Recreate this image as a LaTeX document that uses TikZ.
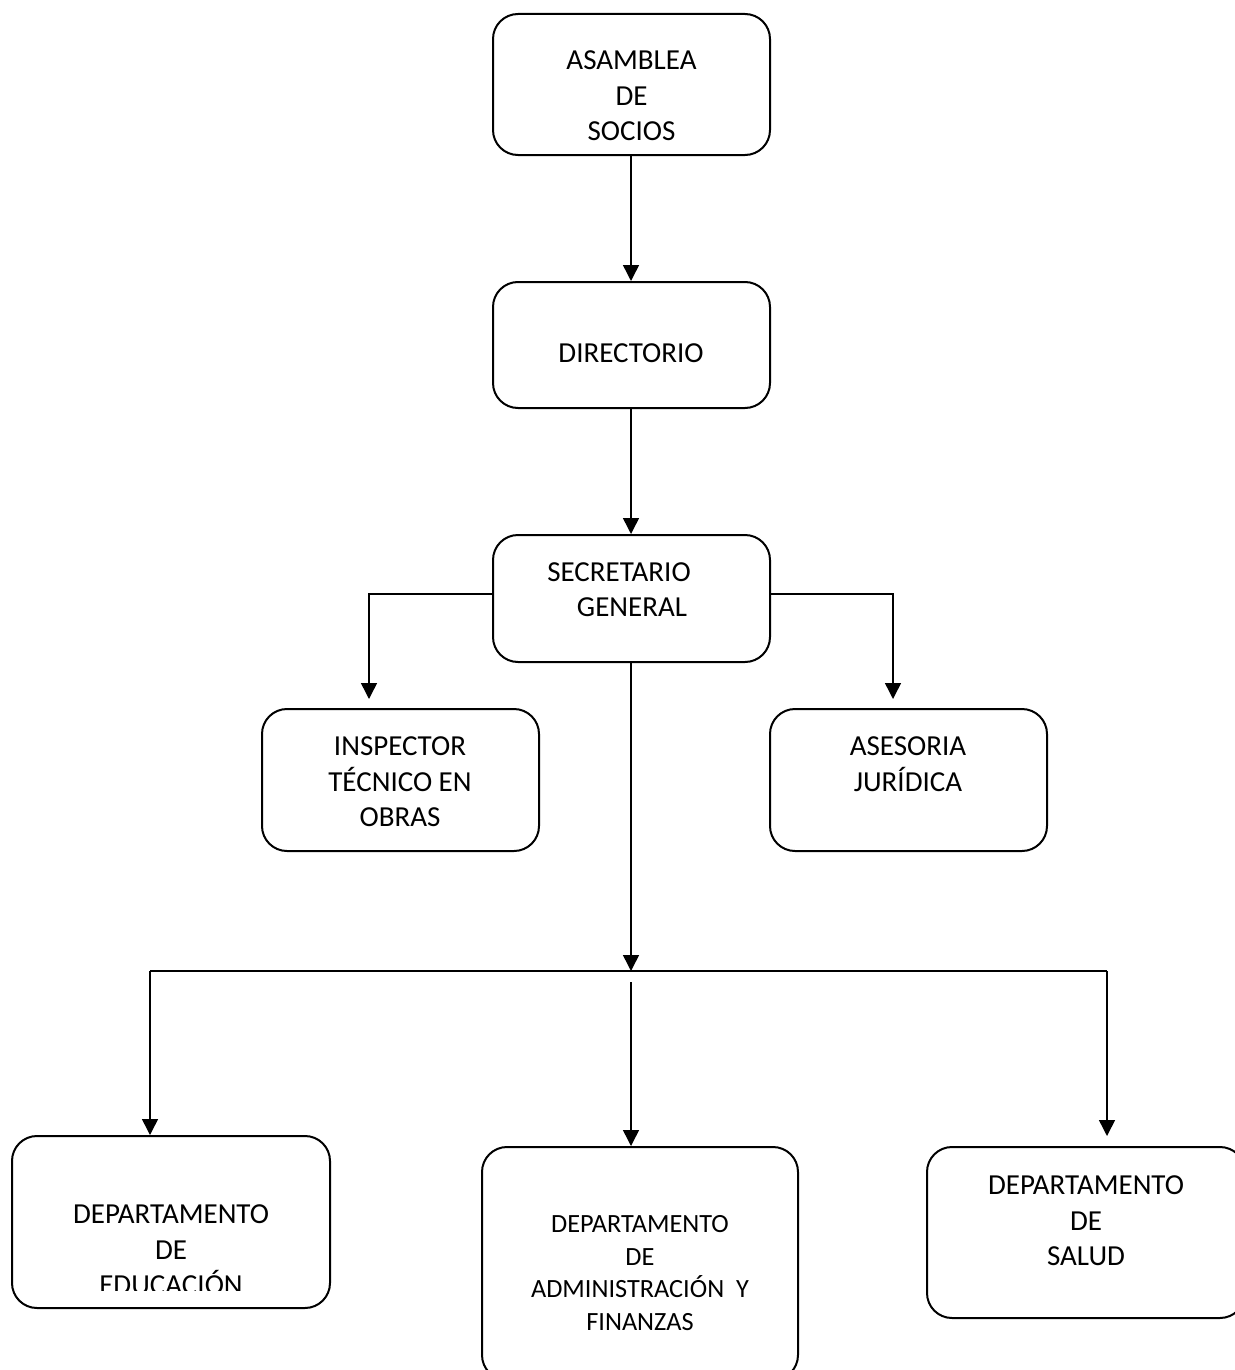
\documentclass[tikz,border=0pt]{standalone}
\usepackage{fontspec}
\setmainfont{Carlito}
\usetikzlibrary{arrows.meta}
\begin{document}
\begin{tikzpicture}[x=1pt,y=-1pt,
 box/.style={draw, line width=2pt, rounded corners=25pt, inner sep=0pt},
 lbl/.style={inner sep=0pt, align=center, font=\fontsize{29}{35.5}\selectfont},
 lblsmall/.style={inner sep=0pt, align=center, font=\fontsize{26.3}{32.5}\selectfont},
 conn/.style={line width=1.5pt},
 arr/.style={conn, -{Triangle[length=16pt,width=16pt]}}]
\useasboundingbox (0,0) rectangle (1234,1370);

% boxes
\node[box, minimum width=277pt, minimum height=141pt] (asam) at (631.5,84.5) {};
\node[box, minimum width=277pt, minimum height=126pt] (dir) at (631.5,345) {};
\node[box, minimum width=277pt, minimum height=127pt] (sec) at (631.5,598.5) {};
\node[box, minimum width=277pt, minimum height=142pt] (insp) at (400.5,780) {};
\node[box, minimum width=277pt, minimum height=142pt] (ases) at (908.5,780) {};
\node[box, minimum width=318pt, minimum height=172pt] (edu) at (171,1222) {};
\node[box, minimum width=316pt, minimum height=233pt] (adm) at (640,1263.5) {};
\node[box, minimum width=318pt, minimum height=171pt] (sal) at (1086,1232.5) {};

% texts
\node[lbl] (asamt) at (631.5,96) {ASAMBLEA\\DE\\SOCIOS};
\node[lbl] (dirt) at (631,353) {DIRECTORIO};
\node[lbl] (sect) at (619,589.5) {SECRETARIO\\\hspace*{26pt}GENERAL};
\node[lbl] (inspt) at (400,782) {INSPECTOR\\TÉCNICO EN\\OBRAS};
\node[lbl] (asest) at (908,764) {ASESORIA\\JURÍDICA};
\begin{scope}
\clip (0,0) rectangle (1234,1290);
\node[lbl] (edut) at (171,1250) {DEPARTAMENTO\\DE\\EDUCACIÓN};
\end{scope}
\node[lblsmall] (admt) at (640,1273) {DEPARTAMENTO\\DE\\ADMINISTRACIÓN\ \ Y\\FINANZAS};
\node[lbl] (salt) at (1086,1221) {DEPARTAMENTO\\DE\\SALUD};

% connector points
\coordinate (ltip) at (369,699);
\coordinate (rtip) at (893,699);
\coordinate (junc) at (631,971);
\coordinate (hl) at (150,971);
\coordinate (hr) at (1107,971);
\coordinate (mstart) at (631,982);
\coordinate (srtip) at (1107,1136);

% connectors
\draw[arr] (asam.south -| junc) -- (dir.north -| junc);
\draw[arr] (dir.south -| junc) -- (sec.north -| junc);
\draw[arr] ([yshift=4.5pt]sec.west) -| (ltip);
\draw[arr] ([yshift=4.5pt]sec.east) -| (rtip);
\draw[arr] (sec.south -| junc) -- (junc);
\draw[conn] (hl) -- (hr);
\draw[arr] (hl) -- (hl |- edu.north);
\draw[arr] (mstart) -- (mstart |- adm.north);
\draw[arr] (hr) -- (srtip);
\end{tikzpicture}
\end{document}
